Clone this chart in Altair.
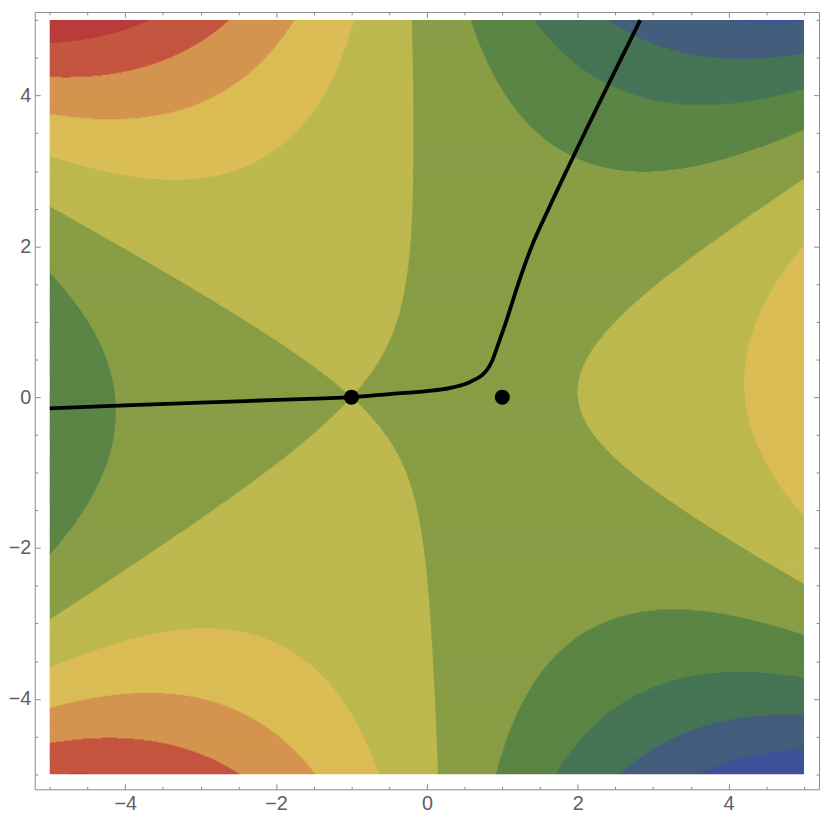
import numpy as np
import pandas as pd
import altair as alt

# ---- values ----
X_RANGE = [-5.0, 5.0]
Y_RANGE = [-5.0, 5.0]
# phase of the cubic phase function Re(exp(i*a) * (z^3/3 - z - h(-1)))
PHASE = -0.0966
CONTOUR_LEVELS = [-80, -60, -40, -20, 0, 20, 40, 60, 80]
BAND_COLORS = ["#3d5299", "#435d7c", "#467556", "#5a8545", "#889d45",
               "#bdb94e", "#dbbd55", "#d4944f", "#c4553f", "#b93c3a"]

SADDLE_X = [-1.0, 1.0]
SADDLE_Y = [0.0, 0.0]

PATH_X = [-5.0, -4.0, -3.0, -2.0, -1.0, -0.5, 0.0, 0.3, 0.5, 0.64, 0.74, 0.81,
          0.86, 0.91, 0.98, 1.05, 1.21, 1.39, 1.615, 1.85, 2.09, 2.335, 2.58, 2.83]
PATH_Y = [-0.148, -0.108, -0.072, -0.037, 0.0, 0.04, 0.08, 0.12, 0.17, 0.235, 0.30, 0.38,
          0.47, 0.60, 0.80, 1.0, 1.5, 2.0, 2.5, 3.0, 3.5, 4.0, 4.5, 5.0]

MAJOR_TICKS = [-4, -2, 0, 2, 4]
MINOR_TICKS = [-5, -4.5, -3.5, -3, -2.5, -1.5, -1, -0.5, 0.5, 1, 1.5, 2.5, 3, 3.5, 4.5, 5]

# ---- filled contour bands, built row by row ----
NY, NX = 760, 2400
y_edges = np.linspace(Y_RANGE[0], Y_RANGE[1], NY + 1)
x_edges = np.linspace(X_RANGE[0], X_RANGE[1], NX + 1)
xc = 0.5 * (x_edges[:-1] + x_edges[1:])
dy = y_edges[1] - y_edges[0]
h0 = (-1.0) ** 3 / 3 - (-1.0)
rows = []
for i in range(NY):
    yc = 0.5 * (y_edges[i] + y_edges[i + 1])
    z = xc + 1j * yc
    f = np.real(np.exp(1j * PHASE) * (z ** 3 / 3 - z - h0))
    band = np.digitize(f, CONTOUR_LEVELS)
    change = np.nonzero(np.diff(band))[0] + 1
    starts = np.concatenate([[0], change])
    ends = np.concatenate([change, [NX]])
    top = min(y_edges[i + 1] + 0.8 * dy, Y_RANGE[1])
    for s, e in zip(starts, ends):
        right = min(x_edges[e] + 0.01, X_RANGE[1])
        rows.append({"x0": round(x_edges[s], 4), "x1": round(right, 4),
                     "y0": round(y_edges[i], 4), "y1": round(top, 4),
                     "c": BAND_COLORS[band[s]]})
bands = pd.DataFrame(rows)
path = pd.DataFrame({"x": PATH_X, "y": PATH_Y})
pts = pd.DataFrame({"x": SADDLE_X, "y": SADDLE_Y})

xs = alt.Scale(domain=[-5.2, 5.2], nice=False, zero=False)
ys = alt.Scale(domain=[-5.2, 5.108], nice=False, zero=False)

TICK_COLOR = "#8a8a8a"


def axis(orient, values, size, labels):
    kw = dict(orient=orient, values=values, tickSize=size, offset=-size,
              domain=False, grid=False, labels=labels, ticks=True,
              tickColor=TICK_COLOR, tickWidth=1)
    if labels:
        kw.update(labelFontSize=20, labelColor="#5f5f5f", labelFont="Liberation Sans",
                  labelPadding=4, labelFlush=False)
    return alt.Axis(**kw)


rects = alt.Chart(bands).mark_rect().encode(
    x=alt.X("x0:Q", scale=xs, axis=axis("bottom", MAJOR_TICKS, 5.5, True), title=None),
    x2="x1:Q",
    y=alt.Y("y0:Q", scale=ys, axis=axis("left", MAJOR_TICKS, 5.5, True), title=None),
    y2="y1:Q",
    fill=alt.Fill("c:N", scale=None),
)

line = alt.Chart(path).mark_line(color="black", strokeWidth=3.8, interpolate="monotone").encode(
    x=alt.X("x:Q", scale=xs, axis=axis("top", MAJOR_TICKS, 5.5, False), title=None),
    y=alt.Y("y:Q", scale=ys, axis=axis("right", MAJOR_TICKS, 5.5, False), title=None),
    order="x:Q",
)

dots = alt.Chart(pts).mark_circle(color="black", size=230, opacity=1).encode(
    x=alt.X("x:Q", scale=xs, axis=axis("bottom", MINOR_TICKS, 3, False), title=None),
    y=alt.Y("y:Q", scale=ys, axis=axis("left", MINOR_TICKS, 3, False), title=None),
)

ghost = alt.Chart(pts).mark_circle(opacity=0).encode(
    x=alt.X("x:Q", scale=xs, axis=axis("top", MINOR_TICKS, 3, False), title=None),
    y=alt.Y("y:Q", scale=ys, axis=axis("right", MINOR_TICKS, 3, False), title=None),
)

chart = alt.layer(rects, line, dots, ghost).resolve_axis(
    x="independent", y="independent"
).resolve_scale(x="shared", y="shared").properties(
    width=792, height=785,
    autosize=alt.AutoSizeParams(type="none"),
    padding={"left": 27, "top": 0, "right": 3, "bottom": 30},
    background="white",
).configure_view(stroke=TICK_COLOR, strokeWidth=1)

chart.save("out.html", embed_options={"renderer": "svg", "actions": False})
